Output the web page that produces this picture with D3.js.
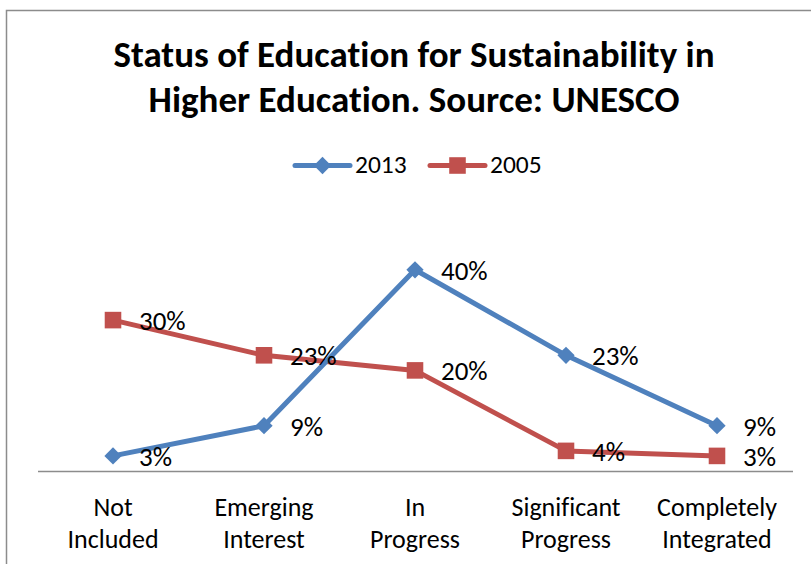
<!DOCTYPE html>
<html>
<head>
<meta charset="utf-8">
<script src="https://cdn.jsdelivr.net/npm/d3@7/dist/d3.min.js"></script>
<style>
  html, body { margin: 0; padding: 0; background: #fff; }
  svg { display: block; }
  text {
    font-family: Carlito, Calibri, "Open Sans", sans-serif;
    fill: #000;
    font-variant-ligatures: none;
    font-feature-settings: "liga" 0, "clig" 0;
  }
</style>
</head>
<body>
<svg id="chart" width="811" height="564"></svg>
<script>
// Chart data
const categories = [
  ["Not", "Included"],
  ["Emerging", "Interest"],
  ["In", "Progress"],
  ["Significant", "Progress"],
  ["Completely", "Integrated"]
];
const seriesNames = ["2013", "2005"];
const values2013 = [3, 9, 40, 23, 9];
const values2005 = [30, 23, 20, 4, 3];
const seriesColors = ["#4F81BD", "#C0504D"];
const titleLines = ["Status of Education for Sustainability in", "Higher Education. Source: UNESCO"];

const series = [
  { name: seriesNames[0], values: values2013, color: seriesColors[0], marker: "diamond" },
  { name: seriesNames[1], values: values2005, color: seriesColors[1], marker: "square" }
];

const svg = d3.select("#chart");

// Outer chart frame
svg.append("rect")
  .attr("x", 6.5).attr("y", 10.5)
  .attr("width", 830).attr("height", 600)
  .attr("fill", "none").attr("stroke", "#8c8c8c").attr("stroke-width", 1.5);

// Title
svg.append("text")
  .attr("text-anchor", "middle")
  .attr("font-weight", "bold")
  .attr("font-size", 37)
  .selectAll("tspan").data(titleLines).join("tspan")
  .attr("x", 414).attr("y", (d, i) => 67 + i * 45)
  .text(d => d);

// Scales
const x = d3.scaleBand()
  .domain(d3.range(categories.length))
  .range([37.5, 792.5]);
const y = d3.scaleLinear()
  .domain([0, 45])
  .range([471, 471 - 45 * 5.03]);

const cx = i => x(i) + x.bandwidth() / 2;

// Category axis
const xAxis = d3.axisBottom(x).tickSize(0).tickFormat("");
const gx = svg.append("g").attr("transform", "translate(0,471)").call(xAxis);
gx.select(".domain").attr("stroke", "#8c8c8c").attr("stroke-width", 1.5);

const catLabels = svg.append("g")
  .selectAll("text").data(categories).join("text")
  .attr("text-anchor", "middle")
  .attr("font-size", 26);
catLabels.selectAll("tspan").data((d, i) => d.map(t => ({ t, i }))).join("tspan")
  .attr("x", d => cx(d.i))
  .attr("y", (d, j) => 516 + j * 32)
  .text(d => d.t);

// Marker shapes
const diamond = d3.symbol().type(d3.symbolDiamond2).size(190);
const square = d3.symbol().type(d3.symbolSquare2).size(350);
const markerPath = m => (m === "diamond" ? diamond() : square());

const line = d3.line().x((d, i) => cx(i)).y(d => y(d));

// Draw the 2005 series first, 2013 on top where they cross
[series[1], series[0]].forEach(s => {
  const g = svg.append("g");
  g.append("path")
    .datum(s.values)
    .attr("d", line)
    .attr("fill", "none")
    .attr("stroke", s.color)
    .attr("stroke-width", 5)
    .attr("stroke-linejoin", "round");
  g.selectAll(".mk").data(s.values).join("path")
    .attr("class", "mk")
    .attr("transform", (d, i) => `translate(${cx(i)},${y(d)})`)
    .attr("d", markerPath(s.marker))
    .attr("fill", s.color);
});

// Data labels
series.forEach(s => {
  svg.append("g").selectAll("text").data(s.values).join("text")
    .attr("x", (d, i) => cx(i) + 26)
    .attr("y", d => y(d) + 10)
    .attr("font-size", 27)
    .text(d => d + "%");
});

// Legend
const legend = svg.append("g");
const legendX = [295, 430];
series.forEach((s, k) => {
  const lx = legendX[k], ly = 165.5;
  legend.append("line")
    .attr("x1", lx).attr("x2", lx + 55)
    .attr("y1", ly).attr("y2", ly)
    .attr("stroke", s.color).attr("stroke-width", 5)
    .attr("stroke-linecap", "round");
  legend.append("path")
    .attr("transform", `translate(${lx + 27.5},${ly})`)
    .attr("d", markerPath(s.marker))
    .attr("fill", s.color);
  legend.append("text")
    .attr("x", lx + 60).attr("y", 173)
    .attr("font-size", 25.5)
    .text(s.name);
});
</script>
</body>
</html>
